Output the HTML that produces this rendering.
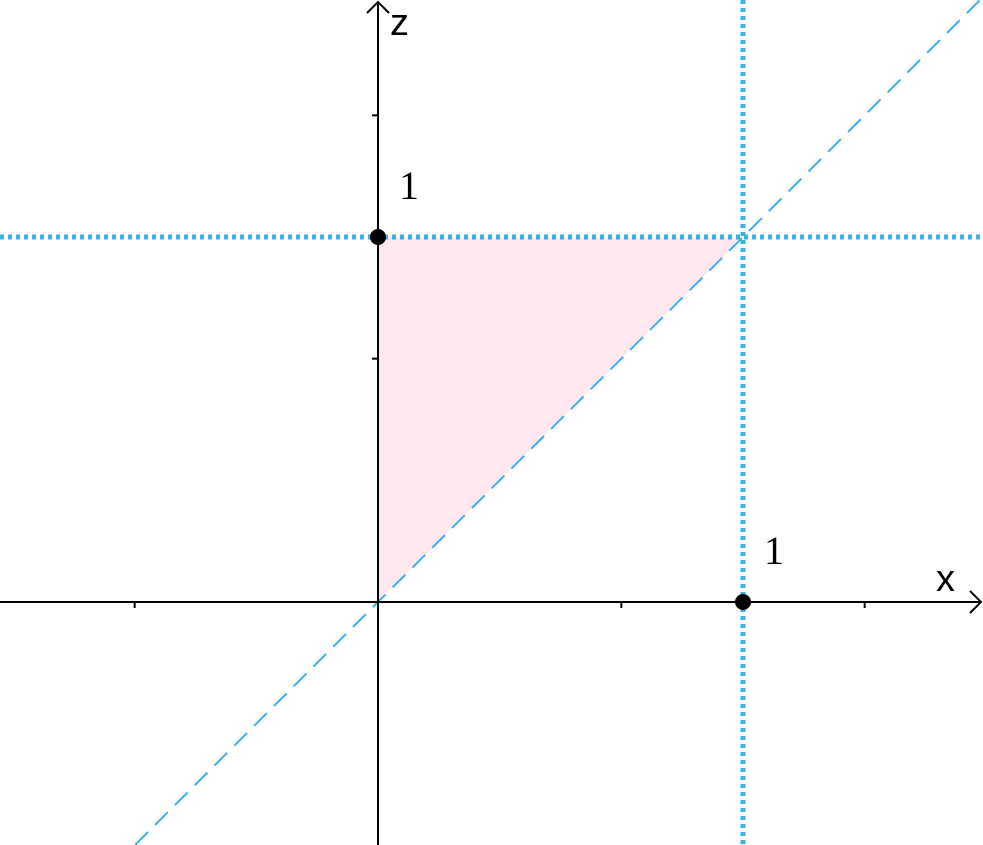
<!DOCTYPE html>
<html><head><meta charset="utf-8"><style>
html,body{margin:0;padding:0;background:#fff;width:983px;height:845px;overflow:hidden}
svg{display:block}
</style></head><body>
<svg id="chart" width="983" height="845" viewBox="0 0 983 845" xmlns="http://www.w3.org/2000/svg" overflow="hidden"></svg>
<script>
const xTicks = [-0.6667, 0.6667, 1.3333];
const zTicks = [0.6667, 1.3333];
const points = [[0,1],[1,0]];
const pointLabels = ["1","1"];
const triangle = [[0,0],[0,1],[1,1]];
const lineX = 1, lineZ = 1;

const ox = 378, oy = 602, unit = 365;
const sx = v => ox + v*unit;
const sy = v => oy - v*unit;
const svg = document.getElementById('chart');
const NS = 'http://www.w3.org/2000/svg';
function mk(tag, attrs){const e=document.createElementNS(NS,tag);for(const k in attrs)e.setAttribute(k,attrs[k]);svg.appendChild(e);return e;}

const tri = mk('polygon',{points:triangle.map(p=>sx(p[0])+','+sy(p[1])).join(' '),fill:'#ffe8ee'});



const diag = mk('line',{x1:sx(-0.665),y1:sy(-0.665),x2:sx(1.655),y2:sy(1.655),stroke:'#3ab0ee','stroke-width':2,'stroke-dasharray':'18,10'});



const vline = mk('line',{x1:sx(lineX),y1:0,x2:sx(lineX),y2:845,stroke:'#3ab0e0','stroke-width':5,'stroke-dasharray':'4,4'});


const hline = mk('line',{x1:0,y1:sy(lineZ),x2:983,y2:sy(lineZ),stroke:'#3ab0e0','stroke-width':5,'stroke-dasharray':'4,4'});



const xa = mk('line',{x1:0,y1:oy,x2:981,y2:oy,stroke:'#000','stroke-width':2});


const xar = mk('polyline',{points:`970,591 981,602 970,613`,fill:'none',stroke:'#000','stroke-width':2});


const za = mk('line',{x1:ox,y1:2,x2:ox,y2:845,stroke:'#000','stroke-width':2});


const zar = mk('polyline',{points:`367,13 378,2 389,13`,fill:'none',stroke:'#000','stroke-width':2});



xTicks.forEach(v=>{
  const t=mk('line',{x1:sx(v),y1:oy,x2:sx(v),y2:oy+6,stroke:'#000','stroke-width':2});
  
  
});
zTicks.forEach(v=>{
  const t=mk('line',{x1:ox,y1:sy(v),x2:ox-6,y2:sy(v),stroke:'#000','stroke-width':2});
  
  
});

points.forEach((p,i)=>{
  const c=mk('circle',{cx:sx(p[0]),cy:sy(p[1]),r:8,fill:'#000'});
  
  
  const t=mk('text',{x:sx(p[0])+21,y:sy(p[1])-38,'font-family':'Liberation Serif, serif','font-size':40,fill:'#000'});
  t.textContent=pointLabels[i];
  
  
});

const xl=mk('text',{x:936,y:591,'font-family':'Liberation Sans, sans-serif','font-size':38,fill:'#000'});
xl.textContent='x';


const zl=mk('text',{x:390,y:35,'font-family':'Liberation Sans, sans-serif','font-size':38,fill:'#000'});
zl.textContent='z';


</script>
</body></html>
